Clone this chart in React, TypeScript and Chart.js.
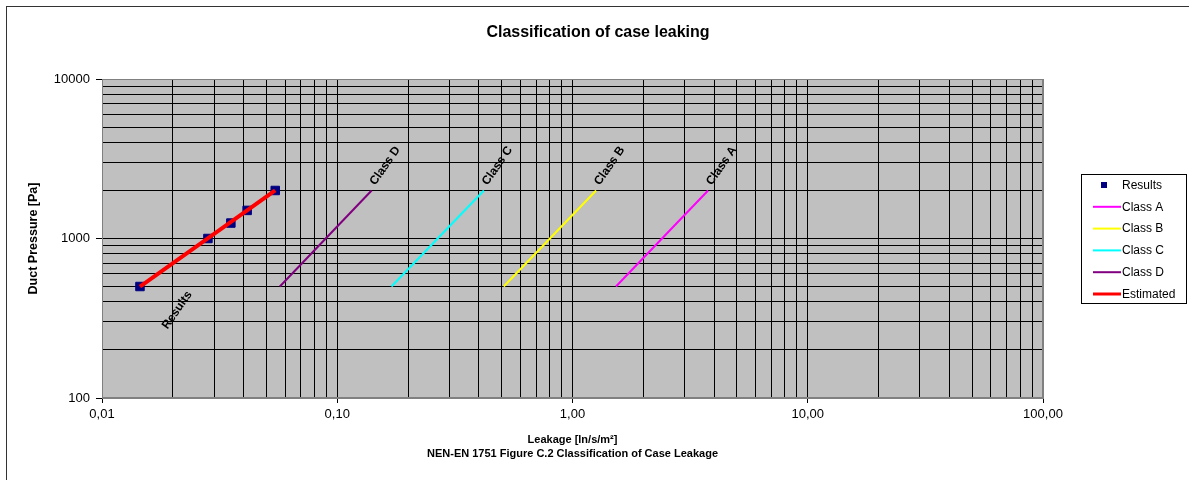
import React, { useEffect, useRef } from 'react';
import { Chart, registerables } from 'chart.js';

Chart.register(...registerables);

const FONT = "'Liberation Sans', Arial, Helvetica, sans-serif";

// ---- data ----
const resultsLeakage = [0.0145, 0.0282, 0.0353, 0.0414, 0.0545];
const resultsPressure = [500, 1000, 1250, 1500, 2000];
const estimatedLeakage = [0.0145, 0.0545];
const estimatedPressure = [500, 2000];
const classPressure = [500, 2000];
const classALeakage = [1.53, 3.77];
const classBLeakage = [0.51, 1.26];
const classCLeakage = [0.17, 0.42];
const classDLeakage = [0.057, 0.14];

const xTickValues = [0.01, 0.1, 1, 10, 100];
const xTickLabels = ['0,01', '0,10', '1,00', '10,00', '100,00'];
const yTickValues = [100, 1000, 10000];
const yTickLabels = ['100', '1000', '10000'];

const chartTitle = 'Classification of case leaking';
const xTitle = ['Leakage [ln/s/m²]', 'NEN-EN 1751 Figure C.2 Classification of Case Leakage'];
const yTitle = 'Duct Pressure [Pa]';

const pts = (xs: number[], ys: number[]) => xs.map((x, i) => ({ x, y: ys[i] }));

const near = (a: number, b: number) => Math.abs(a - b) / Math.abs(b) < 1e-9;

function logTicks(scale: any) {
  const min = scale.options.min;
  const max = scale.options.max;
  const e0 = Math.round(Math.log10(min));
  const e1 = Math.round(Math.log10(max));
  const ticks: any[] = [];
  for (let e = e0; e < e1; e++) {
    for (let m = 1; m <= 9; m++) {
      ticks.push({ value: Number((m * Math.pow(10, e)).toPrecision(10)), major: m === 1 });
    }
  }
  ticks.push({ value: max, major: true });
  scale.ticks = ticks;
}

const isMajorVal = (v: number, list: number[]) => list.some((t) => near(v, t));

const bgPlugin = {
  id: 'bgPlugin',
  beforeDraw(chart: any) {
    const { ctx, chartArea } = chart;
    ctx.save();
    ctx.fillStyle = '#ffffff';
    ctx.fillRect(0, 0, chart.width, chart.height);
    ctx.strokeStyle = '#333333';
    ctx.lineWidth = 1;
    ctx.strokeRect(6.5, 6.5, chart.width + 10, chart.height + 10);
    ctx.fillStyle = '#C0C0C0';
    ctx.fillRect(chartArea.left, chartArea.top, chartArea.right - chartArea.left, chartArea.bottom - chartArea.top);
    ctx.restore();
  },
  beforeDatasetsDraw(chart: any) {
    const { ctx, chartArea } = chart;
    ctx.save();
    ctx.strokeStyle = '#808080';
    ctx.lineWidth = 1;
    ctx.strokeRect(
      Math.round(chartArea.left) + 0.5,
      Math.round(chartArea.top) + 0.5,
      Math.round(chartArea.right - chartArea.left) - 1,
      Math.round(chartArea.bottom - chartArea.top) - 1
    );
    ctx.restore();
  },
};

const labelPlugin = {
  id: 'labelPlugin',
  afterDatasetsDraw(chart: any) {
    const { ctx, scales } = chart;
    const xs = scales.x;
    const ys = scales.y;
    const ang = (-55 * Math.PI) / 180;
    ctx.save();
    ctx.fillStyle = '#000';
    ctx.font = `bold 12px ${FONT}`;
    chart.data.datasets.forEach((ds: any) => {
      const data = ds.data;
      if (ds.label === 'Results') {
        const p = data[0];
        const px = xs.getPixelForValue(p.x);
        const py = ys.getPixelForValue(p.y);
        ctx.save();
        ctx.translate(px, py);
        ctx.rotate(ang);
        ctx.textAlign = 'center';
        ctx.textBaseline = 'middle';
        ctx.fillText('Results', 2, 44);
        ctx.restore();
      } else if (ds.label.startsWith('Class')) {
        const p = data[data.length - 1];
        const px = xs.getPixelForValue(p.x);
        const py = ys.getPixelForValue(p.y);
        ctx.save();
        ctx.translate(px, py);
        ctx.rotate(ang);
        ctx.textAlign = 'left';
        ctx.textBaseline = 'middle';
        ctx.fillText(ds.label, 6, -3);
        ctx.restore();
      }
    });
    ctx.restore();
  },
};

const legendPlugin = {
  id: 'legendPlugin',
  afterDraw(chart: any) {
    const { ctx } = chart;
    const left = 1081;
    const top = 174;
    const w = 106;
    const h = 130;
    ctx.save();
    ctx.fillStyle = '#ffffff';
    ctx.fillRect(left, top, w, h);
    ctx.strokeStyle = '#000';
    ctx.lineWidth = 1;
    ctx.strokeRect(left + 0.5, top + 0.5, w - 1, h - 1);
    ctx.font = `12px ${FONT}`;
    ctx.textBaseline = 'middle';
    ctx.textAlign = 'left';
    chart.data.datasets.forEach((ds: any, i: number) => {
      const y = top + 11 + i * 21.8;
      if (ds.showLine === false) {
        ctx.fillStyle = ds.pointBackgroundColor;
        ctx.fillRect(1101, Math.round(y) - 3, 6, 6);
      } else {
        ctx.strokeStyle = ds.borderColor;
        ctx.lineWidth = Math.min(ds.borderWidth, 3);
        ctx.beginPath();
        ctx.moveTo(1093, y);
        ctx.lineTo(1121, y);
        ctx.stroke();
      }
      ctx.fillStyle = '#000';
      ctx.fillText(ds.label, 1122, y + 0.5);
    });
    ctx.restore();
  },
};

export default function App() {
  const ref = useRef<HTMLCanvasElement | null>(null);

  useEffect(() => {
    if (!ref.current) return;
    const chart = new Chart(ref.current, {
      type: 'line',
      data: {
        datasets: [
          {
            label: 'Results',
            data: pts(resultsLeakage, resultsPressure),
            showLine: false,
            pointStyle: 'rect',
            pointRadius: 6,
            pointBorderWidth: 1,
            pointBackgroundColor: '#000080',
            pointBorderColor: '#000080',
            borderColor: '#000080',
            backgroundColor: '#000080',
            order: 1,
          },
          {
            label: 'Class A',
            data: pts(classALeakage, classPressure),
            borderColor: '#FF00FF',
            backgroundColor: '#FF00FF',
            borderWidth: 2,
            pointRadius: 0,
            order: 2,
          },
          {
            label: 'Class B',
            data: pts(classBLeakage, classPressure),
            borderColor: '#FFFF00',
            backgroundColor: '#FFFF00',
            borderWidth: 2,
            pointRadius: 0,
            order: 2,
          },
          {
            label: 'Class C',
            data: pts(classCLeakage, classPressure),
            borderColor: '#00FFFF',
            backgroundColor: '#00FFFF',
            borderWidth: 2,
            pointRadius: 0,
            order: 2,
          },
          {
            label: 'Class D',
            data: pts(classDLeakage, classPressure),
            borderColor: '#800080',
            backgroundColor: '#800080',
            borderWidth: 2,
            pointRadius: 0,
            order: 2,
          },
          {
            label: 'Estimated',
            data: pts(estimatedLeakage, estimatedPressure),
            borderColor: '#FF0000',
            backgroundColor: '#FF0000',
            borderWidth: 4,
            pointRadius: 0,
            order: 0,
          },
        ],
      } as any,
      options: {
        responsive: false,
        animation: false,
        devicePixelRatio: 1,
        events: [],
        layout: { padding: { left: 7, right: 0, top: 0, bottom: 0 } },
        plugins: {
          legend: { display: false },
          tooltip: { enabled: false },
          title: {
            display: true,
            text: chartTitle,
            color: '#000',
            font: { family: FONT, size: 16, weight: 'bold', lineHeight: 1.2 },
            padding: { top: 23.4, bottom: 36.4 },
          },
        },
        scales: {
          x: {
            type: 'logarithmic',
            position: 'bottom',
            min: 0.01,
            max: 100,
            afterBuildTicks: logTicks,
            afterFit: (s: any) => {
              s.height = 82;
            },
            ticks: {
              autoSkip: false,
              maxRotation: 0,
              minRotation: 0,
              padding: 4,
              color: '#000',
              font: { family: FONT, size: 13 },
              callback: (v: any) => {
                const i = xTickValues.findIndex((t) => near(Number(v), t));
                return i >= 0 ? xTickLabels[i] : '';
              },
            },
            grid: {
              color: (c: any) => {
                const v = c.tick ? c.tick.value : 0;
                return near(v, 0.01) || near(v, 100) ? '#808080' : '#000000';
              },
              lineWidth: 1,
              tickLength: 5,
              tickColor: (c: any) => (c.tick && isMajorVal(c.tick.value, xTickValues) ? '#000' : 'rgba(0,0,0,0)'),
            },
            border: { color: '#808080', width: 1 },
            title: {
              display: true,
              text: xTitle,
              color: '#000',
              font: { family: FONT, size: 11, weight: 'bold', lineHeight: 1.3 },
              padding: { top: 0, bottom: 18.5 },
            },
          },
          y: {
            type: 'logarithmic',
            position: 'left',
            min: 100,
            max: 10000,
            afterBuildTicks: logTicks,
            afterFit: (s: any) => {
              s.width = 95;
            },
            ticks: {
              autoSkip: false,
              padding: 6,
              color: '#000',
              font: { family: FONT, size: 13 },
              callback: (v: any) => {
                const i = yTickValues.findIndex((t) => near(Number(v), t));
                return i >= 0 ? yTickLabels[i] : '';
              },
            },
            grid: {
              color: (c: any) => {
                const v = c.tick ? c.tick.value : 0;
                return near(v, 100) || near(v, 10000) ? '#808080' : '#000000';
              },
              lineWidth: 1,
              tickLength: 6,
              tickColor: (c: any) => (c.tick && isMajorVal(c.tick.value, yTickValues) ? '#000' : 'rgba(0,0,0,0)'),
            },
            border: { color: '#808080', width: 1 },
            title: {
              display: true,
              text: yTitle,
              color: '#000',
              font: { family: FONT, size: 12.5, weight: 'bold', lineHeight: 1.2 },
              padding: { top: 19, bottom: 0 },
            },
          },
          y2: {
            type: 'linear',
            position: 'right',
            display: true,
            min: 0,
            max: 1,
            grid: { display: false, drawTicks: false },
            border: { display: false },
            ticks: { display: false },
            afterFit: (s: any) => {
              s.width = 146;
            },
          },
        },
      } as any,
      plugins: [bgPlugin, labelPlugin, legendPlugin],
    });
    return () => chart.destroy();
  }, []);

  return (
    <div style={{ position: 'absolute', left: 0, top: 0, width: 1189, height: 480, background: '#fff' }}>
      <canvas ref={ref} width={1189} height={480} style={{ display: 'block', width: 1189, height: 480 }} />
    </div>
  );
}
